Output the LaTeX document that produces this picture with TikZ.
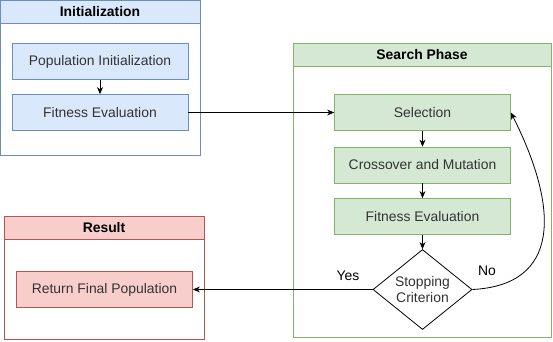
\documentclass[tikz,border=0pt]{standalone}
\usepackage{fontspec}
\setmainfont{Liberation Sans}
\usetikzlibrary{arrows.meta,shapes.geometric}
\definecolor{bfill}{HTML}{DAE8FC}\definecolor{bdraw}{HTML}{6C8EBF}
\definecolor{gfill}{HTML}{D5E8D4}\definecolor{gdraw}{HTML}{82B366}
\definecolor{rfill}{HTML}{F8CECC}\definecolor{rdraw}{HTML}{B85450}
\definecolor{txt}{HTML}{333333}
\begin{document}
\begin{tikzpicture}[x=1pt,y=-1pt,
  every node/.style={font=\fontsize{13.9}{16}\selectfont, text=txt},
  box/.style={draw=#1draw, fill=#1fill, line width=0.8pt, minimum width=176pt, minimum height=36pt, inner sep=0pt},
  cont/.style={draw=#1draw, line width=0.8pt},
  hdr/.style={draw=#1draw, fill=#1fill, line width=0.8pt},
  title/.style={font=\fontsize{13.9}{16}\selectfont\bfseries, text=black},
  arr/.style={-{Stealth[length=7pt,width=6pt]}, line width=0.8pt, black},
  lbl/.style={text=black}]
\useasboundingbox (0,0) rectangle (553,341);
% Initialization
\draw[cont=b] (0.5,0.5) rectangle (200,155);
\draw[hdr=b] (0.5,0.5) rectangle (200,23);
\node[title] (tinit) at (100,12) {Initialization};
\node[box=b] (pop) at (100,61.5) {Population Initialization};
\node[box=b] (fit1) at (100,112.5) {Fitness Evaluation};
% Search phase
\draw[cont=g] (293,43) rectangle (551,337);
\draw[hdr=g] (293,43) rectangle (551,66);
\node[title] (tsearch) at (422,55) {Search Phase};
\node[box=g] (sel) at (422.5,112.5) {Selection};
\node[box=g] (cm) at (422.5,165) {Crossover and Mutation};
\node[box=g] (fit2) at (422.5,216.5) {Fitness Evaluation};
\node[diamond, draw=black, fill=white, line width=0.8pt, minimum width=99pt, minimum height=80pt, inner sep=0pt, align=center, aspect=1.24] (stop) at (422.5,289.5) {Stopping\\Criterion};
% Result
\draw[cont=r] (4,216) rectangle (204,339);
\draw[hdr=r] (4,216) rectangle (204,239);
\node[title] (tres) at (104,228) {Result};
\node[box=r] (ret) at (104.5,289.5) {Return Final Population};
% connectors
\draw[arr] (pop) -- (fit1);
\draw[arr] (fit1) -- (sel);
\draw[arr] (sel) -- (cm);
\draw[arr] (cm) -- (fit2);
\draw[arr] (fit2) -- (stop);
\draw[arr] (stop.west) -- (ret.east);
\draw[arr] (stop.east) .. controls (560,285) and (560,210) .. (sel.east);
\node[lbl] (yes) at (348,276) {Yes};
\node[lbl] (no) at (487,271) {No};
\end{tikzpicture}
\end{document}
